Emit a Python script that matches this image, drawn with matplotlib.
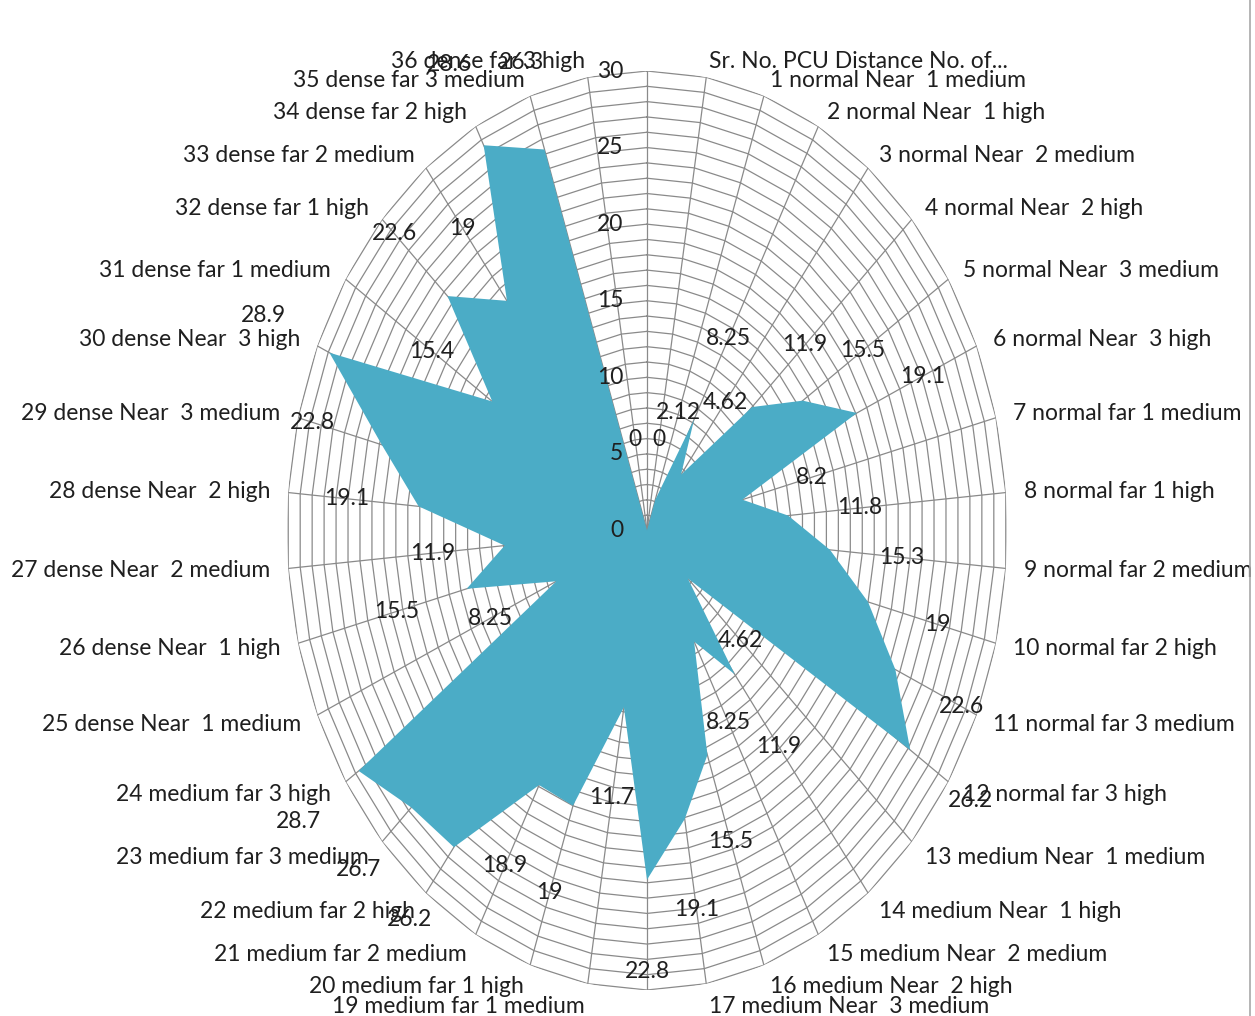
import numpy as np
import matplotlib.pyplot as plt
from matplotlib.lines import Line2D

# spoke labels, clockwise from the top (first spoke has an empty header cell)
categories = [
    "", "Sr. No. PCU Distance No. of...",
    "1 normal Near  1 medium", "2 normal Near  1 high",
    "3 normal Near  2 medium", "4 normal Near  2 high",
    "5 normal Near  3 medium", "6 normal Near  3 high",
    "7 normal far 1 medium", "8 normal far 1 high",
    "9 normal far 2 medium", "10 normal far 2 high",
    "11 normal far 3 medium", "12 normal far 3 high",
    "13 medium Near  1 medium", "14 medium Near  1 high",
    "15 medium Near  2 medium", "16 medium Near  2 high",
    "17 medium Near  3 medium", "18 medium Near  3 high",
    "19 medium far 1 medium", "20 medium far 1 high",
    "21 medium far 2 medium", "22 medium far 2 high",
    "23 medium far 3 medium", "24 medium far 3 high",
    "25 dense Near  1 medium", "26 dense Near  1 high",
    "27 dense Near  2 medium", "28 dense Near  2 high",
    "29 dense Near  3 medium", "30 dense Near  3 high",
    "31 dense far 1 medium", "32 dense far 1 high",
    "33 dense far 2 medium", "34 dense far 2 high",
    "35 dense far 3 medium", "36 dense far 3 high",
]

# None = empty cell (plotted at zero, no data label)
values = [
    None, 0,
    2.12, 8.25, 4.62, 11.9, 15.5, 19.1,
    8.2, 11.8, 15.3, 19, 22.6, 26.2,
    4.62, 11.9, 8.25, 15.5, 19.1, 22.8,
    11.7, 19, 18.9, 26.2, 26.7, 28.7,
    8.25, 15.5, 11.9, 19.1, 22.8, 28.9,
    15.4, 22.6, 19, 28.6, 26.3, 0,
]

axis_ticks = [0, 5, 10, 15, 20, 25, 30]
R_MAX = 30

FILL = "#4BACC6"
GRID = "#8A8A8A"
TEXT = "#1F1F1F"
FONT = "Lato"
FS = 16.5

plt.rcParams["font.family"] = [FONT, "DejaVu Sans"]

n = len(categories)
theta = np.arange(n) * 2 * np.pi / n
radii = np.array([0.0 if v is None else v for v in values])

fig = plt.figure(figsize=(12.55, 10.16), dpi=100)
ax = fig.add_axes([287 / 1255, 26 / 1016, 720 / 1255, 919 / 1016], projection="polar")
ax.set_aspect("auto")
ax.set_theta_zero_location("N")
ax.set_theta_direction(-1)
ax.set_ylim(0, R_MAX)
ax.grid(False)
ax.set_xticks([])
ax.set_yticks([])
ax.spines["polar"].set_visible(False)
ax.patch.set_visible(False)

# polygonal gridlines every unit, plus spokes
ring = np.append(theta, theta[0])
for level in range(1, R_MAX + 1):
    ax.plot(ring, np.full(n + 1, level), color=GRID, lw=0.9, zorder=1)
for t in theta:
    ax.plot([t, t], [0, R_MAX], color=GRID, lw=0.9, zorder=1)

ax.fill(theta, radii, color=FILL, lw=0, zorder=2)

# value axis labels along the first spoke
for tv in axis_ticks:
    ax.annotate(str(tv), xy=(0, tv), xytext=(-17, 0), textcoords="offset points",
                ha="right", va="center", fontsize=FS, color=TEXT, zorder=5,
                annotation_clip=False)

# data labels, pushed outwards from each point
for t, v in zip(theta, values):
    if v is None:
        continue
    ax.text(t, v + 6, f"{v:g}", ha="center", va="center", fontsize=FS,
            color=TEXT, zorder=5, clip_on=False)

# category labels around the outside (the bottom one falls below the canvas)
for t, lab in zip(theta, categories):
    s, c = np.sin(t), np.cos(t)
    dy = -5 * max(c, 0)
    if abs(s) < 1e-6:
        ha = "center"
        va = "bottom" if c > 0 else "top"
        if c < 0:
            dy = -6
    else:
        ha = "left" if s > 0 else "right"
        va = "center"
    ax.annotate(lab, xy=(t, 31.5), xytext=(0, dy),
                textcoords="offset points", ha=ha, va=va, fontsize=FS,
                color=TEXT, zorder=5, annotation_clip=False)

fig.add_artist(Line2D([1250 / 1255] * 2, [0, 1], transform=fig.transFigure,
                      color="#A8A8A8", lw=1.2))

fig.savefig("out.png", dpi=100, facecolor="white")
